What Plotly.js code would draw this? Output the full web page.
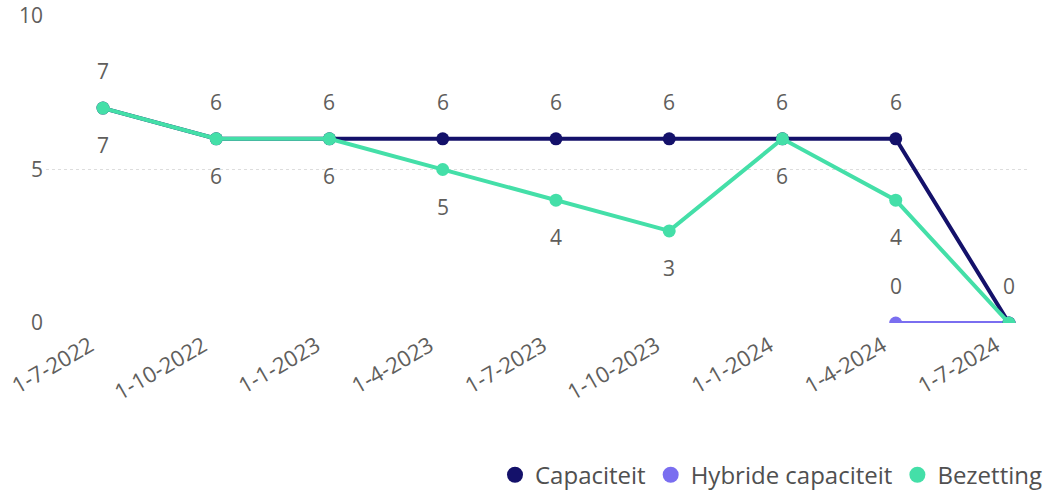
<!DOCTYPE html>
<html>
<head>
<meta charset="utf-8">
<script src="https://cdn.plot.ly/plotly-3.0.1.min.js"></script>
<style>
html,body{margin:0;padding:0;background:#fff;}
#chart{width:1048px;height:496px;}
</style>
</head>
<body>
<div id="chart"></div>
<script>
const categories = ["1-7-2022","1-10-2022","1-1-2023","1-4-2023","1-7-2023","1-10-2023","1-1-2024","1-4-2024","1-7-2024"];
const capaciteit = [7,6,6,6,6,6,6,6,0];
const hybride = [null,null,null,null,null,null,null,0,0];
const bezetting = [7,6,6,5,4,3,6,4,0];
// which data labels are displayed (some hidden by overlap in the original)
const capShow = [true,true,true,true,true,true,true,true,true];
const hybShow = [false,false,false,false,false,false,false,true,false];
const bezShow = [true,true,true,true,true,true,true,true,false];

const cCap = "#14116A", cHyb = "#7A6EF0", cBez = "#44DFA8";
const FONT = "'Segoe UI','Open Sans','Noto Sans',sans-serif";
const labelColor = "#605E5C";

function lineTrace(name, y, color){
  return {x: categories, y: y, type: "scatter", mode: "lines+markers", name: name,
    line: {color: color, width: 4}, marker: {color: color, size: 13},
    showlegend: false, cliponaxis: true, hoverinfo: "x+y+name"};
}
function legendTrace(name, color){
  return {x: [null], y: [null], type: "scatter", mode: "markers", name: name,
    marker: {color: color, size: 19}, showlegend: true};
}
const data = [
  lineTrace("Hybride capaciteit", hybride, cHyb),
  lineTrace("Capaciteit", capaciteit, cCap),
  lineTrace("Bezetting", bezetting, cBez),
  legendTrace("Capaciteit", cCap),
  legendTrace("Hybride capaciteit", cHyb),
  legendTrace("Bezetting", cBez)
];

const annotations = [];
function addLabels(y, show, shift){
  y.forEach((v,i)=>{
    if (v === null || !show[i]) return;
    annotations.push({x: categories[i], y: v, xref: "x", yref: "y", text: String(v),
      showarrow: false, yshift: shift, font: {family: FONT, size: 21, color: labelColor}});
  });
}
addLabels(capaciteit, capShow, 37);
addLabels(hybride, hybShow, 37);
addLabels(bezetting, bezShow, -37);

const layout = {
  width: 1048, height: 496,
  margin: {l: 46, r: 20, t: 16, b: 173},
  paper_bgcolor: "#fff", plot_bgcolor: "#fff",
  font: {family: FONT, color: labelColor},
  xaxis: {type: "category", range: [-0.503, 8.168], showgrid: false, zeroline: false,
    showline: false, ticks: "", tickangle: -30, ticklabelshift: -13, ticklabelstandoff: 5,
    tickfont: {family: FONT, size: 22, color: labelColor}},
  yaxis: {range: [0, 10], tickvals: [0,5,10], showgrid: true, gridcolor: "#DDDDDD",
    griddash: "dot", gridwidth: 1, zeroline: false, showline: false, ticks: "",
    ticklabelstandoff: 2,
    tickfont: {family: FONT, size: 21, color: labelColor}},
  legend: {orientation: "h", xref: "container", x: 1, xanchor: "right", yref: "container", y: 0.042, yanchor: "middle",
    font: {family: FONT, size: 24, color: "#505050"}, itemwidth: 30, bgcolor: "rgba(0,0,0,0)"},
  annotations: annotations,
  showlegend: true
};
Plotly.newPlot("chart", data, layout, {displayModeBar: false, staticPlot: true});
</script>
</body>
</html>
